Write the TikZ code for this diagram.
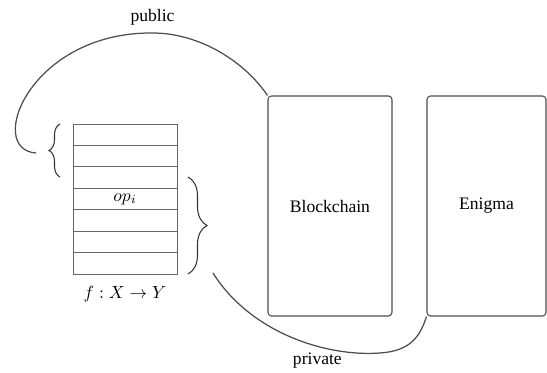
\documentclass[tikz,border=0pt]{standalone}
\usepackage{fontspec}
\setmainfont{Liberation Serif}
\usetikzlibrary{positioning,decorations.pathreplacing}
\tikzset{
	zeile/.style={draw=black!60, line width=0.5pt, minimum width=2.08cm, minimum height=0.4286cm, inner sep=0pt, outer sep=0pt},
	kasten/.style={draw=black!70, rounded corners=2pt, minimum height=4.4cm, inner sep=0pt},
	klammer/.style={draw=black!80, decorate, decoration={brace, amplitude=#1}},
	verbindung/.style={draw=black!70, line width=0.7pt}
}
\begin{document}
\begin{tikzpicture}[line width=0.6pt]
		\useasboundingbox (0,0) rectangle (10.94,7.44);
		
		%Operationen
		\node[zeile] (r1) at (2.5,4.746) {};
		\foreach \i [remember=\i as \j (initially 1)] in {2,...,7}
			\node[zeile, below=0pt of r\j] (r\i) {};
		\node (opi) at (r4) {$op_i$};
		\node[below=0.12cm of r7] (abb) {$f : X \to Y$};
		
		%Klammern
		\draw[klammer=0.22cm] (1.2,3.9) -- (1.2,4.96);
		\draw[klammer=0.38cm] (3.76,3.9) -- (3.76,1.96);
		
		%Kaesten
		\node[kasten, minimum width=2.48cm] (bc) at (6.6,3.32) {Blockchain};
		\node[kasten, minimum width=2.38cm] (en) at (9.73,3.32) {Enigma};
		
		%Verbindungen
		\coordinate (pub) at (0.72,4.38);
		\coordinate (gipfel) at (3.05,6.78);
		\draw[verbindung] (pub) .. controls (-0.3,4.45) and (0.6,6.8) .. (gipfel) node[above=1pt] (publ) {public}
			.. controls (4.0,6.78) and (4.9,6.2) .. (bc.north west);
		\coordinate (priv) at (4.26,1.98);
		\coordinate (tal) at (7.6,0.38);
		\draw[verbindung] (priv) .. controls (5.0,0.8) and (6.5,0.3) .. (tal) node[pos=0.65, below] (privl) {private}
			.. controls (8.2,0.42) and (8.4,0.7) .. (en.south west);
\end{tikzpicture}
\end{document}
